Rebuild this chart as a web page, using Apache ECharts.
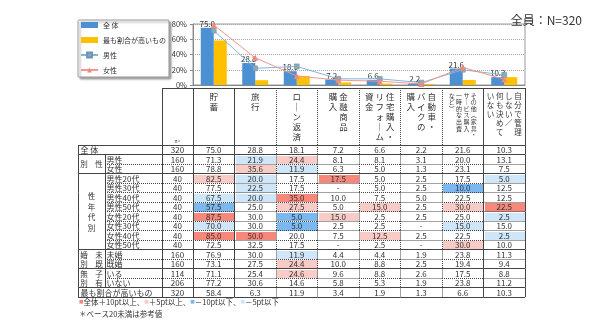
<!DOCTYPE html>
<html><head><meta charset="utf-8">
<script src="https://cdn.jsdelivr.net/npm/echarts@6/dist/echarts.min.js"></script>
<style>html,body{margin:0;padding:0;background:#fff}#c{width:600px;height:325px}</style>
</head><body><div id="c"></div>
<script>
const categories = ['貯蓄','旅行','ローン返済','金融商品購入','住宅購入・リフォーム資金','自動車・バイクの購入','その他（家具・サービス購入・一時的な出費など）','自分で管理しない／何も決めていない'];
const headerColumns = [['貯蓄'],['旅行'],['ロ｜ン返済'],['金融商品','購入'],['住宅購入・','リフォ｜ム','資金'],['自動車・','バイクの','購入'],['その他︵家具・','サ｜ビス購入','一時的な出費','など︶'],['自分で管理','しない／','何も決めて','いない']];
const headerStyle = ['', '', '', '', '', '', 's', 'm'];
const seriesNames = ['全 体','最も割合が高いもの','男性','女性'];
const totalValues = [75.0,28.8,18.1,7.2,6.6,2.2,21.6,10.3];
const topValues = [58.4,6.3,11.9,3.4,1.9,1.3,6.6,10.3];
const maleValues = [71.3,21.9,24.4,8.1,8.1,3.1,20.0,13.1];
const femaleValues = [78.8,35.6,11.9,6.3,5.0,1.3,23.1,7.5];
const yTicks = [0,20,40,60,80];
const rowLabels = ['全 体','男性','女性','男性20代','男性30代','男性40代','男性50代','女性20代','女性30代','女性40代','女性50代','未婚','既婚','いる','いない','最も割合が高いもの'];
const rowN = [320,160,160,40,40,40,40,40,40,40,40,160,160,114,206,320];
const tableValues = [
 [75.0,28.8,18.1,7.2,6.6,2.2,21.6,10.3],
 [71.3,21.9,24.4,8.1,8.1,3.1,20.0,13.1],
 [78.8,35.6,11.9,6.3,5.0,1.3,23.1,7.5],
 [82.5,20.0,17.5,17.5,5.0,2.5,17.5,5.0],
 [77.5,22.5,17.5,null,5.0,2.5,10.0,12.5],
 [67.5,20.0,35.0,10.0,7.5,5.0,22.5,12.5],
 [57.5,25.0,27.5,5.0,15.0,2.5,30.0,22.5],
 [87.5,30.0,5.0,15.0,2.5,2.5,25.0,2.5],
 [70.0,30.0,5.0,2.5,2.5,null,15.0,15.0],
 [85.0,50.0,20.0,7.5,12.5,2.5,22.5,2.5],
 [72.5,32.5,17.5,null,2.5,null,30.0,10.0],
 [76.9,30.0,11.9,4.4,4.4,1.9,23.8,11.3],
 [73.1,27.5,24.4,10.0,8.8,2.5,19.4,9.4],
 [71.1,25.4,24.6,9.6,8.8,2.6,17.5,8.8],
 [77.2,30.6,14.6,5.8,5.3,1.9,23.8,11.2],
 [58.4,6.3,11.9,3.4,1.9,1.3,6.6,10.3]
];
const groups = [{from:1,to:2,text:'別　性'},{from:3,to:10,text:'性\n年\n代\n別'},{from:11,to:12,text:'婚　未\n別　既'},{from:13,to:14,text:'無　子\n別　有'}];
const spanRows = [0,15];
const solidAfterRows = [0,2,10,12,14,15];
const solidAfterCols = [0,6,7];
const titleText = '全員：N=320';
const noteLine1 = '{r|■}全体＋10pt以上、{lr|■}＋5pt以上、{b|■}－10pt以下、{lb|■}－5pt以下';
const noteLine2 = '＊ベース20未満は参考値';

const FONT = "'Noto Sans CJK JP', sans-serif";
const LINE = '#444';
const HEADER_TOP = 88;
const heat = {r:'#f6877b', lr:'#f8cbc6', b:'#7bb8ef', lb:'#cfe5f8'};

function cellColor(r, c) {
  if (spanRows.includes(r)) return null;
  const v = tableValues[r][c];
  if (v == null) return null;
  const d = Math.round((v - tableValues[0][c]) * 10) / 10;
  if (d >= 10) return heat.r;
  if (d >= 5) return heat.lr;
  if (d <= -10) return heat.b;
  if (d <= -5) return heat.lb;
  return null;
}
function crisp(v) { return Math.round(v - 0.5) + 0.5; }
function hline(xa, xb, y, solid) {
  y = crisp(y);
  return {type:'line', z2:10, shape:{x1:xa, y1:y, x2:xb, y2:y}, style:{stroke:LINE, lineWidth:1, lineDash: solid ? null : [1,1]}};
}
function vline(x, ya, yb, solid) {
  x = crisp(x);
  return {type:'line', z2:10, shape:{x1:x, y1:ya, x2:x, y2:yb}, style:{stroke:LINE, lineWidth:1, lineDash: solid ? null : [1,1]}};
}
function headerLabel(i) {
  const cols = headerColumns[i];
  const arr = cols.map(s => [...s]);
  const n = Math.max(...arr.map(a => a.length));
  const lines = [];
  for (let k = 0; k < n; k++) {
    const parts = [];
    for (let j = arr.length - 1; j >= 0; j--) parts.push(arr[j][k] || '　');
    const line = parts.join(' ');
    lines.push(headerStyle[i] ? '{' + headerStyle[i] + '|' + line + '}' : line);
  }
  return lines.join('\n');
}

const cellData = [];
tableValues.forEach((row, r) => row.forEach((v, c) => cellData.push([c, r])));

function cellRender(params, api) {
  const c = api.value(0), r = api.value(1);
  const p = api.coord([c, r]);
  const s = api.size([1, 1]);
  const w = s[0], h = s[1];
  const x0 = p[0] - w/2, y0 = p[1] - h/2, x1 = x0 + w, y1 = y0 + h;
  const ch = [];
  const col = cellColor(r, c);
  if (col) ch.push({type:'rect', z2:1, shape:{x:Math.round(x0)+1, y:Math.round(y0)+1, width:Math.round(x1)-Math.round(x0)-1, height:Math.round(y1)-Math.round(y0)-1}, style:{fill:col}});
  const v = tableValues[r][c];
  ch.push({type:'text', z2:5, style:{text: v == null ? '-' : v.toFixed(1), x:p[0], y:p[1]+0.5, align:'center', verticalAlign:'middle', fontSize:8, fontFamily:FONT, fill:'#333'}});
  const sc = solidAfterCols.includes(c);
  ch.push(hline(x0, x1, y1, solidAfterRows.includes(r)));
  ch.push(vline(x1, y0, y1, sc));
  if (c === 0) ch.push(vline(x0, y0, y1, true));
  if (r === 0) {
    ch.push(hline(x0, x1, y0, true));
    ch.push(hline(x0, x1, HEADER_TOP, true));
    ch.push(vline(x1, HEADER_TOP, y0, sc));
    if (c === 0) ch.push(vline(x0, HEADER_TOP, y0, true));
  }
  return {type:'group', children:ch};
}

function labelRender(params, api) {
  const r = api.value(1);
  const X = v => api.coord([v, r])[0];
  const yc = api.coord([0, r])[1];
  const h = api.size([1, 1])[1];
  const y0 = yc - h/2, y1 = yc + h/2;
  const span = spanRows.includes(r);
  const ch = [];
  ch.push({type:'text', z2:5, style:{text: rowLabels[r], x: span ? X(2.5) : X(28.5), y: yc+0.5, align:'left', verticalAlign:'middle', fontSize:8, fontFamily:FONT, fill:'#333'}});
  ch.push({type:'text', z2:5, style:{text: String(rowN[r]), x: X(99.5), y: yc+0.5, align:'center', verticalAlign:'middle', fontSize:8, fontFamily:FONT, fill:'#333'}});
  if (solidAfterRows.includes(r)) ch.push(hline(X(0), X(115), y1, true));
  else ch.push(hline(X(27), X(115), y1, false));
  ch.push(vline(X(0), y0, y1, true));
  if (!span) ch.push(vline(X(27), y0, y1, true));
  ch.push(vline(X(84), y0, y1, true));
  if (r === 0) {
    ch.push(hline(X(0), X(115), y0, true));
    ch.push(vline(X(84), HEADER_TOP, y0, true));
    ch.push(hline(X(84), X(115), HEADER_TOP, true));
    ch.push({type:'text', style:{text:'n=', x:X(99.5), y:y0-4, align:'center', verticalAlign:'middle', fontSize:5, fontFamily:FONT, fill:'#333'}});
  }
  return {type:'group', children:ch};
}

function groupRender(params, api) {
  const g = groups[params.dataIndex];
  const h = api.size([1, 1])[1];
  const yTop = api.coord([0, g.from])[1] - h/2;
  const yBot = api.coord([0, g.to])[1] + h/2;
  const x = api.coord([13.5, g.from])[0];
  const vertical = g.text.split('\n').length > 2;
  return {type:'text', style:{text:g.text, x:x, y:(yTop+yBot)/2 + 0.5, align:'center', verticalAlign:'middle', fontSize:7.5, lineHeight: vertical ? 10.5 : 9.5, fontFamily:FONT, fill:'#333'}};
}

const chart = echarts.init(document.getElementById('c'), null, {renderer:'canvas'});
chart.setOption({
  animation:false,
  textStyle:{fontFamily:FONT},
  title:{text:titleText, right:13, top:9, textStyle:{fontSize:12, fontWeight:'normal', color:'#333', fontFamily:FONT}},
  legend:{
    orient:'vertical', left:78, top:20, itemWidth:17, itemHeight:6, itemGap:5, padding:[0,3,2,2],
    data:[{name:seriesNames[0], icon:'rect'},{name:seriesNames[1], icon:'rect'},seriesNames[2],seriesNames[3]],
    textStyle:{fontSize:7, lineHeight:10, color:'#333', fontFamily:FONT},
    backgroundColor:'#fff', borderColor:'#999', borderWidth:1, borderRadius:1,
    shadowColor:'rgba(0,0,0,0.35)', shadowBlur:2, shadowOffsetX:2, shadowOffsetY:2
  },
  grid:[
    {left:193, top:24, width:332, height:61, show:true, borderColor:'#999', borderWidth:1},
    {left:193, top:145, width:332, height:152},
    {left:78, top:145, width:115, height:152}
  ],
  xAxis:[
    {gridIndex:0, type:'category', data:categories, axisLabel:{show:false}, axisTick:{show:false}, axisLine:{lineStyle:{color:'#888'}}},
    {gridIndex:1, type:'category', data:categories, position:'top', axisLine:{show:false}, axisTick:{show:false}, splitLine:{show:false},
     axisLabel:{interval:0, hideOverlap:false, margin:53, verticalAlign:'top', align:'center', fontSize:8.5, lineHeight:10, color:'#333', fontFamily:FONT,
       formatter:(v, i) => headerLabel(i),
       rich:{s:{fontSize:6, lineHeight:6.6, color:'#333', fontFamily:FONT}, m:{fontSize:7.5, lineHeight:9, color:'#333', fontFamily:FONT}}}},
    {gridIndex:2, type:'value', min:0, max:115, show:false}
  ],
  yAxis:[
    {gridIndex:0, type:'value', min:yTicks[0], max:yTicks[yTicks.length-1], interval:yTicks[1]-yTicks[0],
     axisLabel:{formatter:'{value}%', fontSize:7.5, color:'#333', margin:6},
     axisLine:{show:true, lineStyle:{color:'#888'}}, axisTick:{show:true, length:3, lineStyle:{color:'#888'}},
     splitLine:{lineStyle:{color:'#aaa', type:[1,1]}}},
    {gridIndex:1, type:'category', data:rowLabels, inverse:true, show:false},
    {gridIndex:2, type:'category', data:rowLabels, inverse:true, show:false}
  ],
  series:[
    {name:seriesNames[0], type:'bar', xAxisIndex:0, yAxisIndex:0, data:totalValues, barWidth:13, barGap:'0%',
     itemStyle:{color:'#4a90d2'},
     label:{show:true, position:'top', distance:0, fontSize:8, color:'#333', formatter:p => p.value.toFixed(1)}, z:3},
    {name:seriesNames[1], type:'bar', xAxisIndex:0, yAxisIndex:0, data:topValues, barWidth:13, barGap:'0%', itemStyle:{color:'#ffc000'}, z:2},
    {name:seriesNames[2], type:'line', xAxisIndex:0, yAxisIndex:0, data:maleValues, symbol:'rect', symbolSize:5,
     lineStyle:{color:'#85b4e0', width:1}, itemStyle:{color:'#8fa9b3', borderColor:'#6b93b5', borderWidth:0.5}, z:4},
    {name:seriesNames[3], type:'line', xAxisIndex:0, yAxisIndex:0, data:femaleValues, symbol:'triangle', symbolSize:6,
     lineStyle:{color:'#f2988c', width:1}, itemStyle:{color:'#f08a7a'}, z:5},
    {type:'custom', xAxisIndex:1, yAxisIndex:1, data:cellData, encode:{x:0, y:1}, renderItem:cellRender, silent:true},
    {type:'custom', xAxisIndex:2, yAxisIndex:2, data:rowLabels.map((_, r) => [0, r]), encode:{x:0, y:1}, renderItem:labelRender, silent:true},
    {type:'custom', xAxisIndex:2, yAxisIndex:2, data:groups.map(g => [0, g.from, g.to]), encode:{x:0, y:1}, renderItem:groupRender, silent:true}
  ],
  graphic:[
    {type:'text', left:79, top:298, style:{text:noteLine1, fontSize:7.5, fill:'#333', fontFamily:FONT,
      rich:{r:{fill:heat.r, fontSize:7.5}, lr:{fill:heat.lr, fontSize:7.5}, b:{fill:heat.b, fontSize:7.5}, lb:{fill:heat.lb, fontSize:7.5}}}},
    {type:'text', left:79, top:310, style:{text:noteLine2, fontSize:7.5, fill:'#333', fontFamily:FONT}}
  ]
});
</script>
</body></html>
